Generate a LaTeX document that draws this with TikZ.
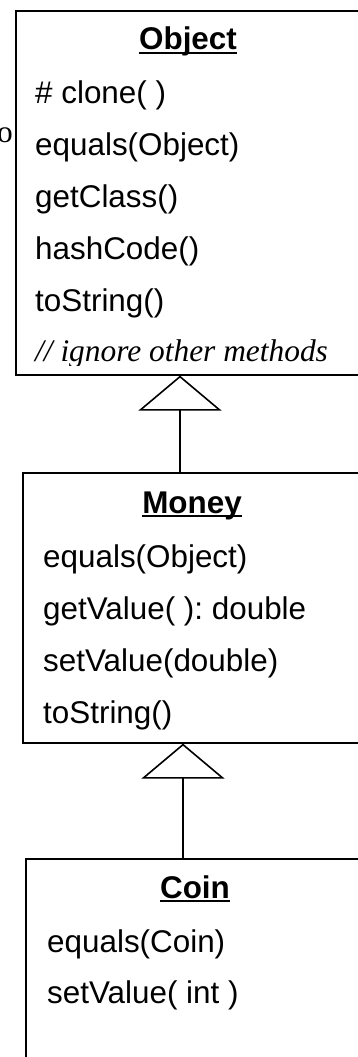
\documentclass[tikz,border=0pt]{standalone}
\usepackage{fontspec}
\setmainfont{Liberation Sans}
\newfontfamily\timesfont{Liberation Serif}
\usetikzlibrary{arrows.meta}

\begin{document}
\fontsize{31.4}{36}\selectfont
\frenchspacing
\begin{tikzpicture}
    [x=1pt, y=-1pt,
     classbox/.style={draw, line width=1.6pt, minimum width=346pt,
                      anchor=north west, inner sep=0pt},
     title/.style={anchor=base, inner sep=0pt, font=\bfseries},
     member/.style={anchor=base west, inner sep=0pt},
     inherits/.style={line width=1.6pt,
                      -{Triangle[open, length=35pt, width=83pt]}}]
  \useasboundingbox (0,0) rectangle (358,1057);
  \clip (0,0) rectangle (358,1057);

  % the three class boxes, right side and Coin's bottom run off the page
  \node[classbox, minimum height=364pt] (object) at (15,10) {};
  \node[classbox, minimum height=270pt] (money) at (22,472) {};
  \node[classbox, minimum height=250pt] (coin) at (25,858) {};

  \node[title] (object-name) at (188,50) {Object};
  \node[title] (money-name) at (192,513) {Money};
  \node[title] (coin-name) at (195,898) {Coin};
  \foreach \c in {object,money,coin}
    \draw[line width=2pt] ([yshift=-3pt]\c-name.base west)
      -- ([yshift=-3pt]\c-name.base east);

  \foreach \m [count=\i from 0] in
      {\# clone( ), equals(Object), getClass(), hashCode(), toString()}
    \node[member] (object-\i) at (35,{103+52*\i}) {\m};
  % last line is cut by the box edge
  \begin{scope}
    \clip (15,10) rectangle (361,365);
    \node[member, font=\timesfont\itshape] (object-note) at (35,361)
      {// ignore other methods};
  \end{scope}

  \foreach \m [count=\i from 0] in
      {equals(Object), getValue( ): double, setValue(double), toString()}
    \node[member] (money-\i) at (43,{567+52*\i}) {\m};

  \foreach \m [count=\i from 0] in {equals(Coin), setValue( int )}
    \node[member] (coin-\i) at (47,{952+51*\i}) {\m};

  \node[member, font=\timesfont] (stray) at (-3,142) {o};

  % generalisation arrows
  \coordinate (objfoot) at (180,0);
  \coordinate (monfoot) at (183,0);
  \draw[inherits] (money.north -| objfoot) -- (object.south -| objfoot);
  \draw[inherits] (coin.north -| monfoot) -- (money.south -| monfoot);
\end{tikzpicture}
\end{document}
